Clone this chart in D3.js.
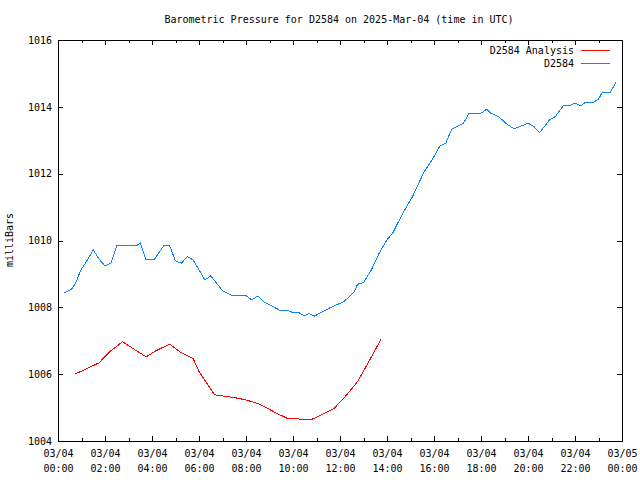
<!DOCTYPE html>
<html>
<head>
<meta charset="utf-8">
<script src="https://cdn.jsdelivr.net/npm/d3@7"></script>
<style>
  body { margin: 0; background: #fff; }
  text { font-family: "DejaVu Sans Mono", monospace; font-size: 10px; fill: #000; }
</style>
</head>
<body>
<svg width="640" height="480"></svg>
<script>
// D2584 station readings (UTC, 2025-03-04)
const stationTimes = ['00:15','00:25','00:35','00:45','00:55','01:00','01:10','01:30','01:45','02:00',
  '02:15','02:30','03:20','03:30','03:45','04:05','04:30','04:45','05:00','05:15',
  '05:30','05:45','06:15','06:30','07:00','07:25','08:00','08:15','08:30','08:45',
  '09:25','09:45','10:00','10:15','10:30','10:40','10:55','11:35','12:10','12:35',
  '12:45','13:00','13:20','13:40','14:00','14:15','14:40','15:05','15:35','15:55',
  '16:15','16:30','16:45','17:15','17:30','18:00','18:15','18:25','18:45','19:05',
  '19:25','20:00','20:15','20:30','20:55','21:10','21:30','21:45','22:00','22:15',
  '22:25','22:45','23:00','23:10','23:30','23:45'];
const stationValues = [1008.42,1008.49,1008.55,1008.72,1009.02,1009.15,1009.32,1009.72,1009.44,1009.24,
  1009.32,1009.84,1009.84,1009.92,1009.42,1009.42,1009.84,1009.84,1009.39,1009.32,
  1009.52,1009.42,1008.82,1008.94,1008.50,1008.35,1008.35,1008.22,1008.34,1008.17,
  1007.92,1007.92,1007.84,1007.84,1007.74,1007.82,1007.74,1007.99,1008.17,1008.44,
  1008.69,1008.74,1009.12,1009.62,1010.02,1010.23,1010.81,1011.31,1012.06,1012.41,
  1012.83,1012.91,1013.33,1013.51,1013.81,1013.81,1013.93,1013.81,1013.71,1013.49,
  1013.34,1013.51,1013.41,1013.23,1013.61,1013.71,1014.03,1014.03,1014.12,1014.03,
  1014.12,1014.12,1014.23,1014.44,1014.44,1014.73];

// D2584 Analysis
const analysisTimes = ['00:45','01:45','01:55','02:15','02:45','03:15','03:45','04:10','04:45','05:15',
  '05:45','06:00','06:40','07:00','07:30','08:00','08:35','09:15','09:45','10:25',
  '10:45','11:15','11:45','12:10','12:45','13:10','13:45'];
const analysisValues = [1006.01,1006.34,1006.47,1006.70,1006.97,1006.74,1006.52,1006.70,1006.90,1006.64,
  1006.47,1006.08,1005.38,1005.35,1005.30,1005.23,1005.10,1004.85,1004.68,1004.65,
  1004.63,1004.80,1004.98,1005.28,1005.78,1006.30,1007.05];

const yTicks = [1004, 1006, 1008, 1010, 1012, 1014, 1016];
const seriesNames = ['D2584 Analysis', 'D2584'];
const seriesColors = ['#ff0000', '#0a84ff'];

const parse = d3.utcParse('%Y-%m-%d %H:%M');
const toPoints = (times, vals) => times.map((t, i) => ({ t: parse('2025-03-04 ' + t), v: vals[i] }));

const svg = d3.select('svg');
const L = 58, R = 622, T = 40, B = 441;

const x = d3.scaleUtc()
  .domain([parse('2025-03-04 00:00'), parse('2025-03-05 00:00')])
  .range([L, R]);
const y = d3.scaleLinear().domain([1004, 1016]).range([B, T]);

// minor ticks every hour
svg.append('g').attr('transform', `translate(0,${B})`)
  .call(d3.axisBottom(x).ticks(d3.utcHour.every(1)).tickSize(-3).tickFormat(''));
svg.append('g').attr('transform', `translate(0,${T})`)
  .call(d3.axisTop(x).ticks(d3.utcHour.every(1)).tickSize(-3).tickFormat(''));

// major ticks every 2 hours, two-line labels
const fmtDate = d3.utcFormat('%m/%d'), fmtTime = d3.utcFormat('%H:%M');
const xAxis = svg.append('g').attr('transform', `translate(0,${B})`)
  .call(d3.axisBottom(x).ticks(d3.utcHour.every(2)).tickSize(-5).tickPadding(0).tickFormat(''));
xAxis.selectAll('.tick text').each(function(d) {
  const t = d3.select(this).attr('y', 0).attr('dy', null);
  t.append('tspan').attr('x', 0).attr('y', 16).text(fmtDate(d));
  t.append('tspan').attr('x', 0).attr('y', 31).text(fmtTime(d));
});
svg.append('g').attr('transform', `translate(0,${T})`)
  .call(d3.axisTop(x).ticks(d3.utcHour.every(2)).tickSize(-5).tickFormat(''));

svg.append('g').attr('transform', `translate(${L},0)`)
  .call(d3.axisLeft(y).tickValues(yTicks).tickSize(-5).tickPadding(6).tickFormat(d3.format('d')));
svg.append('g').attr('transform', `translate(${R},0)`)
  .call(d3.axisRight(y).tickValues(yTicks).tickSize(-5).tickFormat(''));

svg.selectAll('.domain').remove();
svg.selectAll('.tick line').attr('stroke', '#000').attr('shape-rendering', 'crispEdges');
svg.selectAll('.tick text').style('font-family', '"DejaVu Sans Mono", monospace').style('font-size', '10px');

svg.append('rect')
  .attr('x', L).attr('y', T).attr('width', R - L).attr('height', B - T)
  .attr('fill', 'none').attr('stroke', '#000').attr('shape-rendering', 'crispEdges');

const line = d3.line().x(d => x(d.t)).y(d => y(d.v));
[toPoints(analysisTimes, analysisValues), toPoints(stationTimes, stationValues)].forEach((pts, i) => {
  svg.append('path').datum(pts)
    .attr('d', line)
    .attr('fill', 'none')
    .attr('stroke', seriesColors[i])
    .attr('stroke-width', 1)
    .attr('shape-rendering', 'crispEdges');
});

// legend
const legend = svg.append('g');
seriesNames.forEach((name, i) => {
  const ly = 50 + i * 13;
  legend.append('text').attr('x', 574).attr('y', ly).attr('dy', '0.35em')
    .attr('text-anchor', 'end').text(name);
  legend.append('line').attr('x1', 581).attr('x2', 610).attr('y1', ly + 0.5).attr('y2', ly + 0.5)
    .attr('stroke', seriesColors[i]).attr('shape-rendering', 'crispEdges');
});

svg.append('text').attr('x', 339).attr('y', 23).attr('text-anchor', 'middle')
  .text('Barometric Pressure for D2584 on 2025-Mar-04 (time in UTC)');

svg.append('text').attr('transform', 'translate(13,240) rotate(-90)')
  .attr('text-anchor', 'middle').text('milliBars');
</script>
</body>
</html>
